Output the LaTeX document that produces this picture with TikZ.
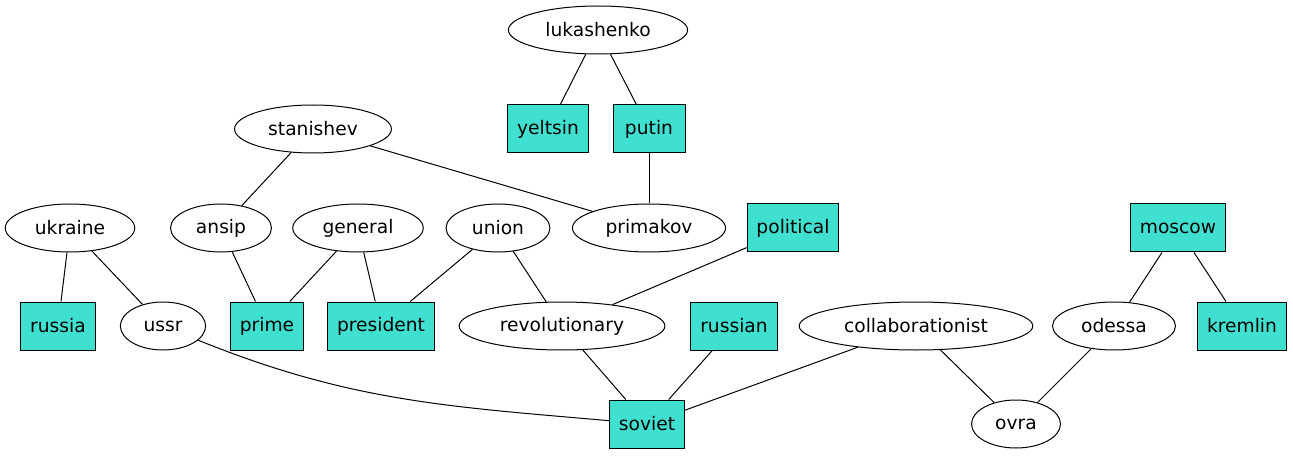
\documentclass[tikz,border=0pt]{standalone}
\usepackage{fontspec}
\setmainfont{DejaVu Sans}
\usetikzlibrary{shapes.geometric}
\definecolor{turq}{HTML}{40E0D0}

\begin{document}
\begin{tikzpicture}[x=0.75pt,y=-0.75pt,line width=0.75pt,font=\fontsize{14pt}{16pt}\selectfont,
		ovalnode/.style={ellipse,draw,inner xsep=8pt,inner ysep=2pt,minimum height=36pt,minimum width=54pt},
		boxnode/.style={rectangle,draw,fill=turq,inner xsep=7pt,minimum height=36pt,minimum width=54pt}]
		\useasboundingbox (0,0) rectangle (1293,456);

		\node[ovalnode]		(lukashenko)		at (598,30)		{lukashenko};
		\node[boxnode]		(yeltsin)			at (548,129)	{yeltsin};
		\node[boxnode]		(putin)				at (649,129)	{putin};
		\node[ovalnode]		(stanishev)			at (313,129)	{stanishev};
		\node[ovalnode]		(ukraine)			at (70,228)		{ukraine};
		\node[ovalnode]		(ansip)				at (221,228)	{ansip};
		\node[ovalnode]		(general)			at (358,228)	{general};
		\node[ovalnode]		(union)				at (498,228)	{union};
		\node[ovalnode]		(primakov)			at (649,228)	{primakov};
		\node[boxnode]		(political)			at (793,228)	{political};
		\node[boxnode]		(moscow)			at (1178,228)	{moscow};
		\node[boxnode]		(russia)			at (58,326)		{russia};
		\node[ovalnode]		(ussr)				at (163,326)	{ussr};
		\node[boxnode]		(prime)				at (267,326)	{prime};
		\node[boxnode]		(president)			at (381,326)	{president};
		\node[ovalnode]		(revolutionary)		at (562,326)	{revolutionary};
		\node[boxnode]		(russian)			at (734,326)	{russian};
		\node[ovalnode]		(collaborationist)	at (916,326)	{collaborationist};
		\node[ovalnode]		(odessa)			at (1114,326)	{odessa};
		\node[boxnode]		(kremlin)			at (1242,326)	{kremlin};
		\node[boxnode]		(soviet)			at (647,424)	{soviet};
		\node[ovalnode]		(ovra)				at (1016,424)	{ovra};

		\draw (lukashenko) -- (yeltsin);
		\draw (lukashenko) -- (putin);
		\draw (putin) -- (primakov);
		\draw (stanishev) -- (ansip);
		\draw (stanishev) -- (primakov);
		\draw (ukraine) -- (russia);
		\draw (ukraine) -- (ussr);
		\draw (ansip) -- (prime);
		\draw (general) -- (prime);
		\draw (general) -- (president);
		\draw (union) -- (president);
		\draw (union) -- (revolutionary);
		\draw (political) -- (revolutionary);
		\draw (moscow) -- (odessa);
		\draw (moscow) -- (kremlin);
		\draw (ussr) to[out=-22,in=175] (soviet);
		\draw (revolutionary) -- (soviet);
		\draw (russian) -- (soviet);
		\draw (collaborationist) -- (soviet);
		\draw (collaborationist) -- (ovra);
		\draw (odessa) -- (ovra);
	\end{tikzpicture}
\end{document}
